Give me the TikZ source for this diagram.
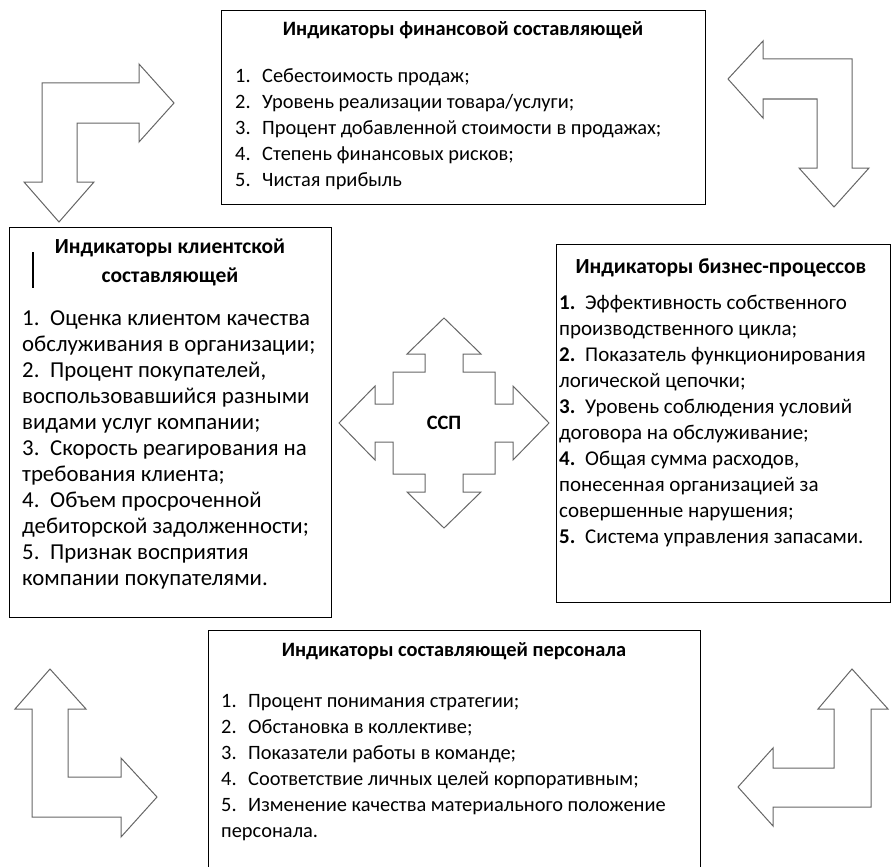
\documentclass[tikz,border=0pt]{standalone}
\usepackage{fontspec}
\setmainfont{Carlito}
\newcommand{\nr}[2]{\makebox[#1pt][l]{#2}}
\tikzset{
  panel/.style={draw, line width=1.2pt, anchor=north west, inner sep=0pt},
  heading/.style={anchor=base, inner sep=0pt, font=\fontsize{20.4}{26}\selectfont\bfseries},
  sideheading/.style={heading, font=\fontsize{21.5}{26}\selectfont\bfseries},
  entry/.style={anchor=base west, inner sep=0pt, font=\fontsize{20.4}{26}\selectfont},
  wide/.style={font=\fontsize{22.8}{26}\selectfont},
  mid/.style={font=\fontsize{21}{26}\selectfont},
  bent/.style={draw=black!60, line width=1pt, line join=miter}
}
\begin{document}
\begin{tikzpicture}[x=1pt,y=-1pt]
\useasboundingbox (0,0) rectangle (892,867);

% panels
\node[panel, minimum width=484pt, minimum height=194pt] (fin) at (221,10) {};
\node[panel, minimum width=322pt, minimum height=390pt] (client) at (9,227) {};
\node[panel, minimum width=334pt, minimum height=358pt] (biz) at (556,244) {};
\node[panel, minimum width=492pt, minimum height=260pt] (staff) at (208,630) {};

% financial
\node[heading] (fin-t) at (463,36) {Индикаторы финансовой составляющей};
\foreach \t [count=\i] in {{\nr{27}{1.}Себестоимость продаж;},
  {\nr{27}{2.}Уровень реализации товара/услуги;},
  {\nr{27}{3.}Процент добавленной стоимости в продажах;},
  {\nr{27}{4.}Степень финансовых рисков;},
  {\nr{27}{5.}Чистая прибыль}}
  \node[entry] (fin-\i) at (235,{56+26*\i}) {\t};

% clients
\node[sideheading] (client-t1) at (170,253) {Индикаторы клиентской};
\node[sideheading] (client-t2) at (170,282) {составляющей};
\draw[line width=1.2pt] (33,252) -- (33,288);
\foreach \t [count=\i] in {{\nr{28}{1.}Оценка клиентом качества},
  {обслуживания в организации;},
  {\nr{28}{2.}Процент покупателей,},
  {воспользовавшийся разными},
  {видами услуг компании;},
  {\nr{28}{3.}Скорость реагирования на},
  {требования клиента;},
  {\nr{28}{4.}Объем просроченной},
  {дебиторской задолженности;},
  {\nr{28}{5.}Признак восприятия},
  {компании покупателями.}}
  \node[entry, wide] (client-\i) at (22,{299+26*\i}) {\t};

% business processes
\node[sideheading] (biz-t) at (721,273) {Индикаторы бизнес-процессов};
\foreach \t [count=\i] in {{\nr{26}{\bfseries 1.}Эффективность собственного},
  {производственного цикла;},
  {\nr{26}{\bfseries 2.}Показатель функционирования},
  {логической цепочки;},
  {\nr{26}{\bfseries 3.}Уровень соблюдения условий},
  {договора на обслуживание;},
  {\nr{26}{\bfseries 4.}Общая сумма расходов,},
  {понесенная организацией за},
  {совершенные нарушения;},
  {\nr{26}{\bfseries 5.}Система управления запасами.}}
  \node[entry, mid] (biz-\i) at (559,{283+26*\i}) {\t};

% staff
\node[heading] (staff-t) at (454,656) {Индикаторы составляющей персонала};
\foreach \t [count=\i] in {{\nr{27}{1.}Процент понимания стратегии;},
  {\nr{27}{2.}Обстановка в коллективе;},
  {\nr{27}{3.}Показатели работы в команде;},
  {\nr{27}{4.}Соответствие личных целей корпоративным;},
  {\nr{27}{5.}Изменение качества материального положение},
  {персонала.}}
  \node[entry] (staff-\i) at (221,{681+26*\i}) {\t};

% bent arrows
\draw[bent] (42,83) -- (139,83) -- (139,64) -- (174,103) -- (139,142) -- (139,123)
  -- (77,123) -- (77,182) -- (94,182) -- (59,222) -- (24,182) -- (42,182) -- cycle;
\draw[bent] (852,59) -- (852,168) -- (869,168) -- (834,207) -- (799,168) -- (817,168)
  -- (817,99) -- (763,99) -- (763,118) -- (728,79) -- (763,41) -- (763,59) -- cycle;
\draw[bent] (50,669) -- (86,709) -- (68,709) -- (68,777) -- (121,777) -- (121,758)
  -- (157,797) -- (121,837) -- (121,817) -- (32,817) -- (32,709) -- (15,709) -- cycle;
\draw[bent] (852,669) -- (888,709) -- (871,709) -- (871,807) -- (773,807) -- (773,826)
  -- (738,787) -- (773,748) -- (773,768) -- (834,768) -- (834,709) -- (818,709) -- cycle;

% cross
\begin{scope}[shift={(444,423)}]
\draw[bent] (0,-105) -- (37,-69) -- (19,-69) -- (19,-51) -- (51,-51) -- (51,-19)
  -- (69,-19) -- (69,-37) -- (105,0) -- (69,37) -- (69,19) -- (51,19) -- (51,51)
  -- (19,51) -- (19,69) -- (37,69) -- (0,105) -- (-37,69) -- (-19,69) -- (-19,51)
  -- (-51,51) -- (-51,19) -- (-69,19) -- (-69,37) -- (-105,0) -- (-69,-37) -- (-69,-19)
  -- (-51,-19) -- (-51,-51) -- (-19,-51) -- (-19,-69) -- (-37,-69) -- cycle;
\node[heading, anchor=center] (ssp) at (0,0) {ССП};
\end{scope}
\end{tikzpicture}
\end{document}
